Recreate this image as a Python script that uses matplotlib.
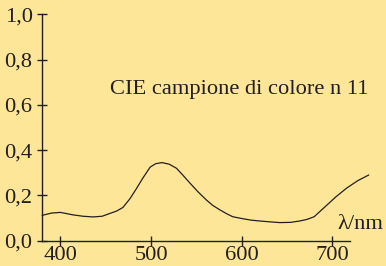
import numpy as np
import matplotlib
matplotlib.use("Agg")
import matplotlib.pyplot as plt

# dati
wl = [380, 390, 400, 414, 425, 436, 446, 455, 462, 469, 477, 484, 491, 499,
      505, 512, 520, 528, 535, 543, 552, 561, 568, 576, 583, 590, 600, 610,
      620, 632, 642, 654, 664, 672, 680, 692, 704, 716, 728, 740]
refl = [0.112, 0.122, 0.125, 0.114, 0.108, 0.105, 0.108, 0.121, 0.131, 0.147,
        0.187, 0.231, 0.277, 0.325, 0.340, 0.345, 0.338, 0.320, 0.290, 0.254,
        0.215, 0.180, 0.156, 0.136, 0.120, 0.106, 0.098, 0.091, 0.087, 0.083,
        0.080, 0.081, 0.087, 0.094, 0.106, 0.150, 0.194, 0.233, 0.265, 0.290]
xticks = [400, 500, 600, 700]
yticks = [0.0, 0.2, 0.4, 0.6, 0.8, 1.0]
ylabels = ["0,0", "0,2", "0,4", "0,6", "0,8", "1,0"]
title = "CIE campione di colore n 11"

bg = "#fee698"
ink = "#231f20"
fs = 16.2
plt.rcParams["font.family"] = ["Liberation Serif", "DejaVu Serif"]

fig = plt.figure(figsize=(3.86, 2.66), dpi=100, facecolor=bg)
ax = fig.add_axes([42.3 / 386, 25.3 / 266, 326.3 / 386, 226.4 / 266])
ax.set_facecolor(bg)
ax.plot(wl, refl, color=ink, lw=0.9, clip_on=False)

ax.set_xlim(380, 740)
ax.set_ylim(0, 1.0)
ax.spines["top"].set_visible(False)
ax.spines["right"].set_visible(False)
ax.spines["left"].set_bounds(0, 1.0)
ax.spines["bottom"].set_bounds(380, 719)
for s in ["left", "bottom"]:
    ax.spines[s].set_color(ink)
    ax.spines[s].set_linewidth(1.0)

ax.set_xticks(xticks)
ax.set_xticklabels([str(t) for t in xticks])
ax.set_yticks(yticks)
ax.set_yticklabels(ylabels)
ax.tick_params(direction="inout", length=7, width=1.0, color=ink,
               labelcolor=ink, labelsize=fs)
ax.tick_params(axis="y", pad=3.5)
ax.tick_params(axis="x", pad=0.5)

ax.text(0.207, 0.668, title, transform=ax.transAxes, fontsize=fs,
        color=ink, va="center", ha="left")
ax.text(0.905, 0.07, "λ/nm", transform=ax.transAxes, fontsize=fs,
        color=ink, va="center", ha="left")

fig.savefig("out.png", dpi=100, facecolor=bg)
